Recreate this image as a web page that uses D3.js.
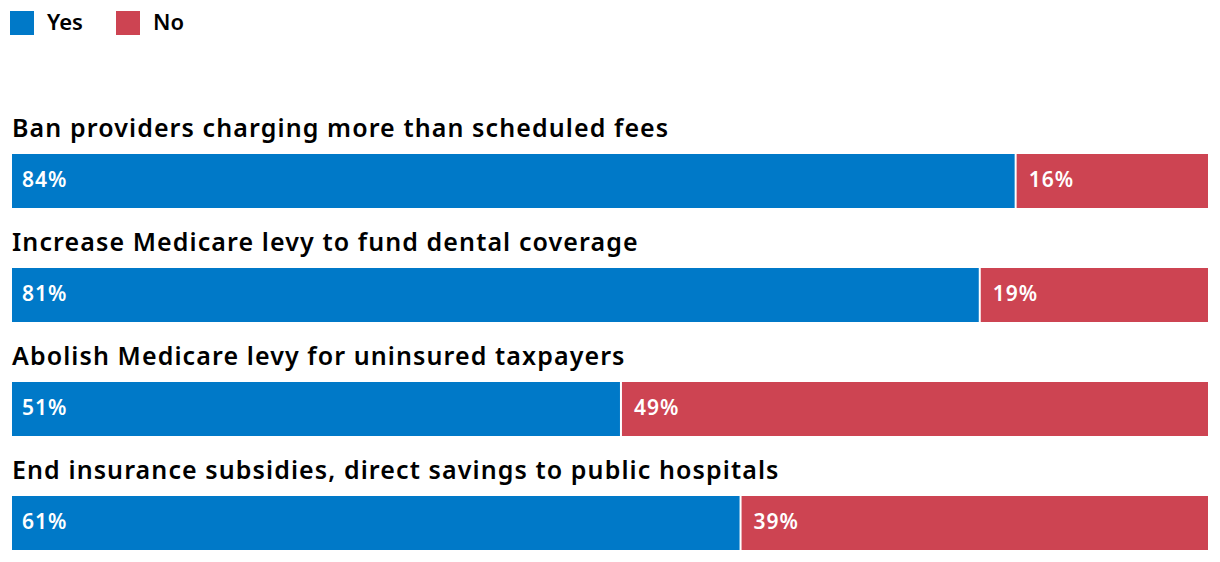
<!DOCTYPE html>
<html><head><meta charset="utf-8">
<script src="https://cdn.jsdelivr.net/npm/d3@7"></script>
<style>body{margin:0;background:#fff}svg{display:block}text{font-family:"Noto Sans",sans-serif}</style>
</head><body><svg id="c" width="1220" height="562"></svg>
<script>
const categories = [
  "Ban providers charging more than scheduled fees",
  "Increase Medicare levy to fund dental coverage",
  "Abolish Medicare levy for uninsured taxpayers",
  "End insurance subsidies, direct savings to public hospitals"
];
const yesValues = [84, 81, 51, 61];
const noValues = [16, 19, 49, 39];
const seriesNames = ["Yes", "No"];
const colors = ["#0079C8", "#CD4452"];

const svg = d3.select("#c");
const x = d3.scaleLinear().domain([0, 100]).range([12, 1208]);
const y = d3.scaleBand().domain(categories).range([100, 556]).paddingInner(0).paddingOuter(0);
const barH = 54, barOff = 54;

// legend
const lg = svg.append("g");
seriesNames.forEach((s, i) => {
  const lx = [10, 116][i];
  lg.append("rect").attr("x", lx).attr("y", 11).attr("width", 24).attr("height", 24).attr("fill", colors[i]);
  lg.append("text").attr("x", lx + 37).attr("y", 30).attr("font-size", 22).attr("font-weight", 600).attr("fill", "#000").text(s);
});

const g = svg.selectAll("g.row").data(categories).join("g").attr("class", "row")
  .attr("transform", d => `translate(0,${y(d)})`);

g.append("text").attr("x", 12).attr("y", 37).attr("font-size", 25).attr("font-weight", 600)
  .attr("letter-spacing", 1.1).attr("fill", "#000").text(d => d);

g.append("rect").attr("x", x(0)).attr("y", barOff).attr("height", barH)
  .attr("width", (d, i) => x(yesValues[i]) - x(0) - 2).attr("fill", colors[0]);
g.append("rect").attr("x", (d, i) => x(yesValues[i])).attr("y", barOff).attr("height", barH)
  .attr("width", (d, i) => x(100) - x(yesValues[i])).attr("fill", colors[1]);

g.append("text").attr("x", x(0) + 10).attr("y", barOff + 33).attr("font-size", 21).attr("font-weight", 600)
  .attr("letter-spacing", 1).attr("fill", "#fff").text((d, i) => yesValues[i] + "%");
g.append("text").attr("x", (d, i) => x(yesValues[i]) + 12).attr("y", barOff + 33).attr("font-size", 21).attr("font-weight", 600)
  .attr("letter-spacing", 1).attr("fill", "#fff").text((d, i) => noValues[i] + "%");
</script></body></html>
